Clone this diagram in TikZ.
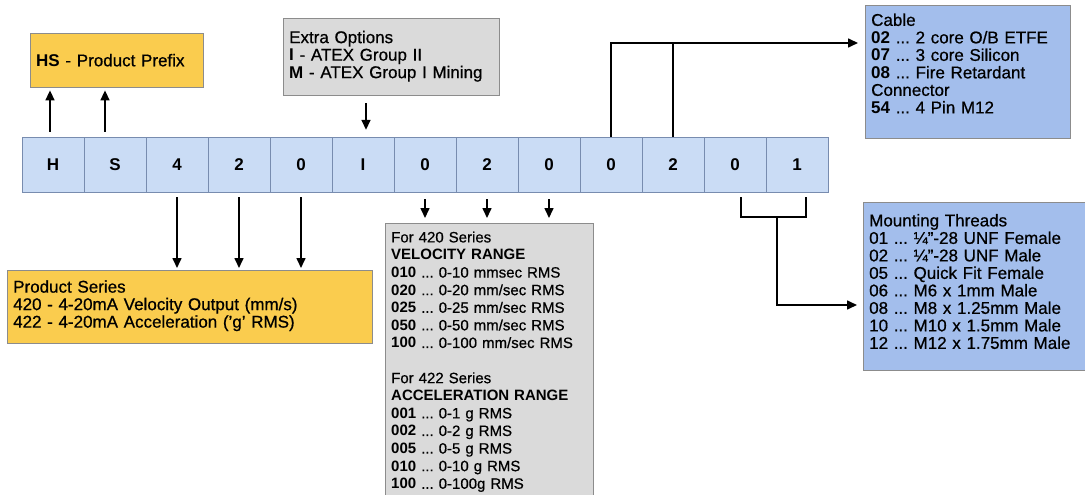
\documentclass[tikz,border=0pt]{standalone}
\usepackage{fontspec}
\setmainfont{Liberation Sans}[UprightFeatures={FakeBold=0.7}]
\usetikzlibrary{arrows.meta,positioning}

\definecolor{cellblue}{RGB}{202,220,245}
\definecolor{cellline}{RGB}{120,140,175}
\definecolor{optyellow}{RGB}{250,204,78}
\definecolor{optgray}{RGB}{218,218,218}
\definecolor{optblue}{RGB}{163,190,236}

\tikzset{
  cell/.style={draw=cellline, fill=cellblue, minimum width=62pt, minimum height=55pt,
    inner sep=0pt, font=\fontsize{17}{18}\selectfont\bfseries},
  optbox/.style={draw=black!45, anchor=north west, align=left, inner xsep=6pt,
    font=\fontsize{17}{17.5}\selectfont},
  arr/.style={line width=1.6pt, -{Triangle[length=10pt,width=9pt]}},
  link/.style={line width=1.6pt},
}

\begin{document}
\frenchspacing
\begin{tikzpicture}[x=1pt, y=-1pt]
    \useasboundingbox (0,0) rectangle (1085,495);
    \foreach \lbl [count=\i] in {H,S,4,2,0,I,0,2,0,0,2,0,1}
        \node[cell] (c\i) at (22+62*\i-31, 164.5) {\lbl};

    \node[optbox, fill=optyellow, text width=161pt, minimum height=54pt] (prefix) at (30,33)
        {\textbf{HS} - Product Prefix};
    \node[optbox, fill=optgray, text width=204pt, minimum height=77pt] (extra) at (283,18)
        {Extra Options\\ \textbf{I} - ATEX Group II\\ \textbf{M} - ATEX Group I Mining\\[-13pt]\mbox{}};
    \node[optbox, fill=optblue, text width=193pt, minimum height=133pt] (cable) at (865,5)
        {Cable\\ \textbf{02} ... 2 core O/B ETFE\\ \textbf{07} ... 3 core Silicon\\
         \textbf{08} ... Fire Retardant\\ Connector\\ \textbf{54} ... 4 Pin M12\\[-1pt]\mbox{}};
    \node[optbox, fill=optyellow, text width=353pt, minimum height=73pt] (series) at (7,270)
        {Product Series\\ 420 - 4-20mA Velocity Output (mm/s)\\ 422 - 4-20mA Acceleration ('g' RMS)\\[-12pt]\mbox{}};
    \node[optbox, fill=optgray, text width=196pt, minimum height=277pt,
          font=\fontsize{15}{17.6}\selectfont] (vel) at (385,223)
        {For 420 Series\\ \textbf{VELOCITY RANGE}\\ \textbf{010} ... 0-10 mmsec RMS\\
         \textbf{020} ... 0-20 mm/sec RMS\\ \textbf{025} ... 0-25 mm/sec RMS\\
         \textbf{050} ... 0-50 mm/sec RMS\\ \textbf{100} ... 0-100 mm/sec RMS\\[17.6pt]
         For 422 Series\\ \textbf{ACCELERATION RANGE}\\ \textbf{001} ... 0-1 g RMS\\
         \textbf{002} ... 0-2 g RMS\\ \textbf{005} ... 0-5 g RMS\\
         \textbf{010} ... 0-10 g RMS\\ \textbf{100} ... 0-100g RMS};
    \node[optbox, fill=optblue, text width=210pt, minimum height=168pt] (mount) at (863,202)
        {Mounting Threads\\ 01 ... ¼"-28 UNF Female\\ 02 ... ¼"-28 UNF Male\\
         05 ... Quick Fit Female\\ 06 ... M6 x 1mm Male\\ 08 ... M8 x 1.25mm Male\\
         10 ... M10 x 1.5mm Male\\ 12 ... M12 x 1.75mm Male\\[-8pt]\mbox{}};

    \draw[arr, shorten <=5pt, shorten >=3pt] ([xshift=-3pt]c1.north) -- ([xshift=-3pt]c1.north |- prefix.south);
    \draw[arr, shorten <=5pt, shorten >=3pt] ([xshift=-10pt]c2.north) -- ([xshift=-10pt]c2.north |- prefix.south);
    \draw[arr, shorten <=8pt, shorten >=7pt] ([xshift=3pt]extra.south -| c6.north) -- ([xshift=3pt]c6.north);

    \coordinate (cablein) at ([yshift=-38pt]cable.north west);
    \draw[arr, shorten >=7pt] (c10.north) |- (cablein);
    \draw[link] (c11.north) -- (c11.north |- cablein);

    \foreach \i in {3,4,5}
        \draw[arr, shorten <=5pt, shorten >=2pt] (c\i.south) -- (c\i.south |- series.north);
    \foreach \i in {7,8,9}
        \draw[arr, shorten <=7pt, shorten >=5pt] (c\i.south) -- (c\i.south |- vel.north);

    \coordinate (brl) at ([xshift=6pt,yshift=-25pt]c12.south);
    \coordinate (brr) at ([xshift=9pt,yshift=-25pt]c13.south);
    \draw[link] ([xshift=6pt,yshift=-5pt]c12.south) -- (brl) -- (brr) -- ([xshift=9pt,yshift=-5pt]c13.south);
    \path (brl) -- (brr) coordinate[pos=0.55] (brmid);
    \coordinate (mountin) at ([yshift=-103pt]mount.north west);
    \draw[arr, shorten >=6pt] (brmid) |- (mountin);
\end{tikzpicture}
\end{document}
